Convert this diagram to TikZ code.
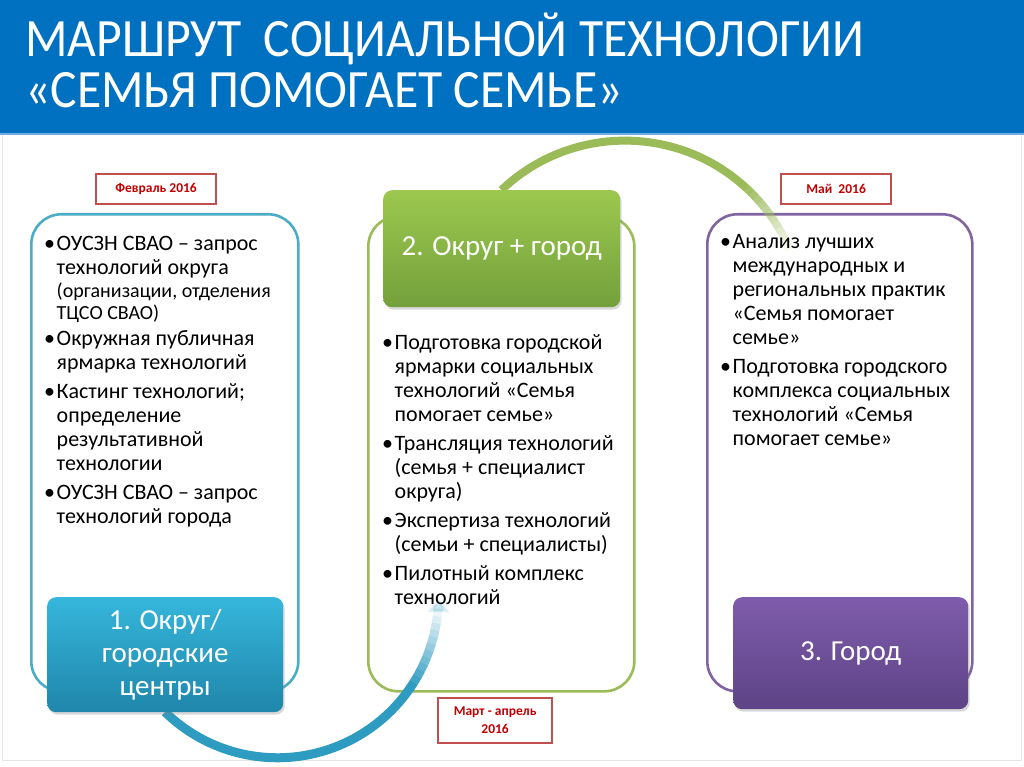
\documentclass[tikz,border=0pt]{standalone}
\usepackage{graphicx}
\usepackage{fontspec}
\setmainfont{Carlito}
\usetikzlibrary{shadows,arrows.meta}
\definecolor{hdrblue}{HTML}{0070C0}
\definecolor{hdrline}{HTML}{6FAEDF}
\definecolor{lblred}{HTML}{C0504D}
\definecolor{txtred}{HTML}{C00000}
\definecolor{aqua}{HTML}{4BACC6}
\definecolor{aquaTop}{HTML}{36B6DB}
\definecolor{aquaBot}{HTML}{1F86AA}
\definecolor{aquaArc}{HTML}{2E9BC1}
\definecolor{olive}{HTML}{9BBB59}
\definecolor{oliveTop}{HTML}{9CC84F}
\definecolor{oliveBot}{HTML}{73A03B}
\definecolor{violet}{HTML}{8064A2}
\definecolor{violetTop}{HTML}{7E5CAB}
\definecolor{violetBot}{HTML}{5E4386}
\newcommand{\bul}{\makebox[12.5pt][l]{•}}
\newcommand{\ind}{\hspace*{12.5pt}}
\newcommand{\smallf}{\fontsize{20}{24}\selectfont}
\begin{document}
\begin{tikzpicture}[x=1pt,y=-1pt,
  outline/.style={draw, line width=2.6pt, rounded corners=30pt, anchor=north west, inner sep=0pt},
  stagebox/.style={rounded corners=9pt, anchor=north west, inner sep=0pt, text=white, align=center,
    font=\fontsize{29}{33}\selectfont,
    drop shadow={shadow xshift=1.5pt, shadow yshift=-2.5pt, opacity=0.3}},
  datebox/.style={draw=lblred, line width=2.2pt, fill=white, anchor=north west, inner sep=0pt,
    align=center, text=txtred, font=\bfseries\fontsize{13.5}{18}\selectfont},
  listtext/.style={anchor=north west, inner sep=0pt, align=left, font=\fontsize{22}{24}\selectfont},
  titletext/.style={anchor=base west, inner sep=0pt, text=white, font=\fontsize{54}{60}\selectfont},
  greenarc/.style={draw=olive, line width=8pt},
  bluearc/.style={draw=aquaArc, line width=9pt},
]
\useasboundingbox (0,0) rectangle (1024,767);
\fill[white] (0,0) rectangle (1024,767);
% header
\fill[hdrblue] (0,0) rectangle (1024,133);
\fill[hdrline] (0,133) rectangle (1024,135.5);
\draw[black!10, line width=1pt] (2.5,135.5) -- (2.5,760.5) -- (1021.5,760.5) -- (1021.5,135.5);
\node[titletext] (t1) at (25,57) {\scalebox{0.92}[1]{МАРШРУТ\ \ СОЦИАЛЬНОЙ ТЕХНОЛОГИИ}};
\node[titletext] (t2) at (25,108) {\scalebox{0.92}[1]{«СЕМЬЯ ПОМОГАЕТ СЕМЬЕ»}};

% outline boxes
\node[outline, draw=aqua, minimum width=267pt, minimum height=477pt] (o1) at (30,213) {};
\node[outline, draw=olive, minimum width=266pt, minimum height=475pt] (o2) at (367,215) {};
\node[outline, draw=violet, minimum width=265pt, minimum height=477pt] (o3) at (706,213) {};

% arc end points on the stage boxes
\path (501.5,190) coordinate (g2top);
\path (165,712) coordinate (b1bot);

% green arc
\draw[greenarc] (g2top) arc[start angle=-133.6, end angle=-47, radius=179] coordinate (ga);
\foreach \i [evaluate=\i as \a using -47+2*\i, evaluate=\i as \op using 1-\i/13] in {1,...,12}
  \draw[greenarc, draw opacity=\op] (ga) arc[start angle=\a-2, end angle=\a, radius=179] coordinate (ga);

% blue arc
\draw[bluearc] (b1bot) arc[start angle=134.3, end angle=32, radius=161] coordinate (ba);
\foreach \i [evaluate=\i as \a using 32-2.5*\i, evaluate=\i as \op using 1-\i/12] in {1,...,11}
  \draw[bluearc, draw opacity=\op] (ba) arc[start angle=\a+2.5, end angle=\a, radius=161] coordinate (ba);
\draw[bluearc, draw opacity=0.12, fill opacity=0.12, -{Triangle[width=22pt,length=14pt]}] (ba) arc[start angle=4.5, end angle=0.5, radius=161];

% filled stage boxes
\node[stagebox, top color=aquaTop, bottom color=aquaBot, minimum width=236pt, minimum height=115pt] (b1) at (47,597) {1. Округ/\\городские\\центры};
\node[stagebox, top color=oliveTop, bottom color=oliveBot, minimum width=237pt, minimum height=117pt] (b2) at (383,190) {2. Округ + город};
\node[stagebox, top color=violetTop, bottom color=violetBot, minimum width=235pt, minimum height=112pt] (b3) at (733,597) {3. Город};

% date labels
\node[datebox, minimum width=120pt, minimum height=30pt] (d1) at (95,173) {Февраль 2016};
\node[datebox, minimum width=110pt, minimum height=30pt] (d3) at (780,173) {Май\ \ 2016};
\node[datebox, minimum width=114pt, minimum height=45pt] (d2) at (437,697) {Март - апрель\\2016};

% lists
\node[listtext] (l1) at (44,233.2) {\strut\bul ОУСЗН СВАО – запрос\\
\ind технологий округа\\[-1pt]
\ind {\smallf (организации, отделения}\\[-2pt]
\ind {\smallf ТЦСО СВАО)}\\[2pt]
\bul Окружная публичная\\
\ind ярмарка технологий\\[5pt]
\bul Кастинг технологий;\\
\ind определение\\
\ind результативной\\
\ind технологии\\[5pt]
\bul ОУСЗН СВАО – запрос\\
\ind технологий города};

\node[listtext] (l2) at (382,332.2) {\strut\bul Подготовка городской\\
\ind ярмарки социальных\\
\ind технологий «Семья\\
\ind помогает семье»\\[5pt]
\bul Трансляция технологий\\
\ind (семья + специалист\\
\ind округа)\\[5pt]
\bul Экспертиза технологий\\
\ind (семьи + специалисты)\\[5pt]
\bul Пилотный комплекс\\
\ind технологий};

\node[listtext] (l3) at (720,231.2) {\strut\bul Анализ лучших\\
\ind международных и\\
\ind региональных практик\\
\ind «Семья помогает\\
\ind семье»\\[5pt]
\bul Подготовка городского\\
\ind комплекса социальных\\
\ind технологий «Семья\\
\ind помогает семье»};
\end{tikzpicture}
\end{document}
